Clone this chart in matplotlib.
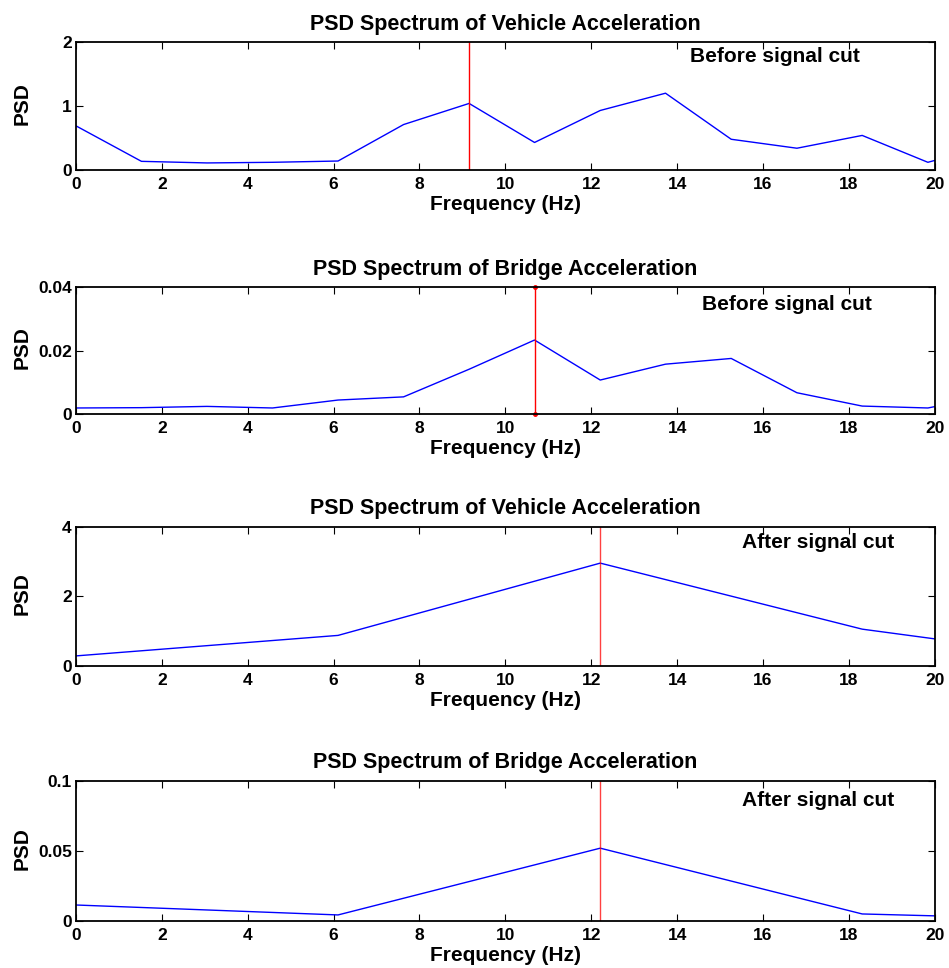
import matplotlib.pyplot as plt

plt.rcParams['font.family'] = ['Liberation Sans', 'DejaVu Sans']
plt.rcParams['font.weight'] = 'bold'

# frequency bins (Hz)
f_before = [0, 1.526, 3.052, 4.578, 6.104, 7.63, 9.156, 10.68, 12.21, 13.73,
            15.26, 16.79, 18.31, 19.84, 21.36]
f_after = [0, 6.104, 12.21, 18.31, 24.41]

veh_before = [0.69, 0.135, 0.11, 0.12, 0.14, 0.71, 1.04, 0.43, 0.93, 1.20,
              0.48, 0.34, 0.54, 0.12, 0.40]
bri_before = [0.0019, 0.0020, 0.0024, 0.0019, 0.0044, 0.0054, 0.0141, 0.0233,
              0.0107, 0.0157, 0.0175, 0.0067, 0.0025, 0.0019, 0.0060]
veh_after = [0.29, 0.88, 2.96, 1.06, 0.05]
bri_after = [0.0114, 0.0043, 0.052, 0.0050, 0.0001]

peaks = [9.156, 10.68, 12.21, 12.21]
titles = ['PSD Spectrum of Vehicle Acceleration', 'PSD Spectrum of Bridge Acceleration',
          'PSD Spectrum of Vehicle Acceleration', 'PSD Spectrum of Bridge Acceleration']
notes = ['Before signal cut', 'Before signal cut', 'After signal cut', 'After signal cut']
yticks = [[0, 1, 2], [0, 0.02, 0.04], [0, 2, 4], [0, 0.05, 0.1]]
ylabels = [['0', '1', '2'], ['0', '0.02', '0.04'], ['0', '2', '4'], ['0', '0.05', '0.1']]
xticks = [0, 2, 4, 6, 8, 10, 12, 14, 16, 18, 20]

fig = plt.figure(figsize=(9.49, 9.68), dpi=100)

# axes boxes in figure fraction [left, bottom, width, height]
boxes = [[0.080, 0.8244, 0.905, 0.1322],
         [0.080, 0.5723, 0.905, 0.1312],
         [0.080, 0.3120, 0.905, 0.1436],
         [0.080, 0.0486, 0.905, 0.1446]]
note_pos = [(0.715, 0.883), (0.729, 0.866), (0.776, 0.885), (0.776, 0.864)]

series = [(f_before, veh_before), (f_before, bri_before),
          (f_after, veh_after), (f_after, bri_after)]

for i in range(4):
    ax = fig.add_axes(boxes[i])
    x, y = series[i]
    ytop = yticks[i][-1]
    ax.plot(x, y, color='b', linewidth=1)
    if i == 1:
        ax.plot([peaks[i], peaks[i]], [0, ytop], color='r', linewidth=1,
                marker='.', markersize=5, clip_on=False)
    else:
        ax.plot([peaks[i], peaks[i]], [0, ytop], color='r', linewidth=1,
                alpha=0.75 if i > 1 else 1)
    ax.set_xlim(0, 20)
    ax.set_ylim(0, ytop)
    ax.set_xticks(xticks)
    ax.set_xticklabels([str(t) for t in xticks])
    ax.set_yticks(yticks[i])
    ax.set_yticklabels(ylabels[i])
    ax.tick_params(direction='in', top=True, right=True, length=5, width=0.8,
                   labelsize=12.5)
    ax.tick_params(axis='x', pad=5)
    ax.tick_params(axis='y', pad=3)
    for s in ax.spines.values():
        s.set_linewidth(1.3)
    ax.set_title(titles[i], fontsize=15.5, fontweight='bold', pad=9)
    ax.set_xlabel('Frequency (Hz)', fontsize=15, fontweight='bold', labelpad=2)
    ax.set_ylabel('PSD', fontsize=15, fontweight='bold')
    ax.yaxis.set_label_coords(-0.052, 0.52)
    ax.text(note_pos[i][0], note_pos[i][1], notes[i], transform=ax.transAxes,
            fontsize=15, fontweight='bold', va='center', ha='left')

fig.savefig('out.png', dpi=100)
